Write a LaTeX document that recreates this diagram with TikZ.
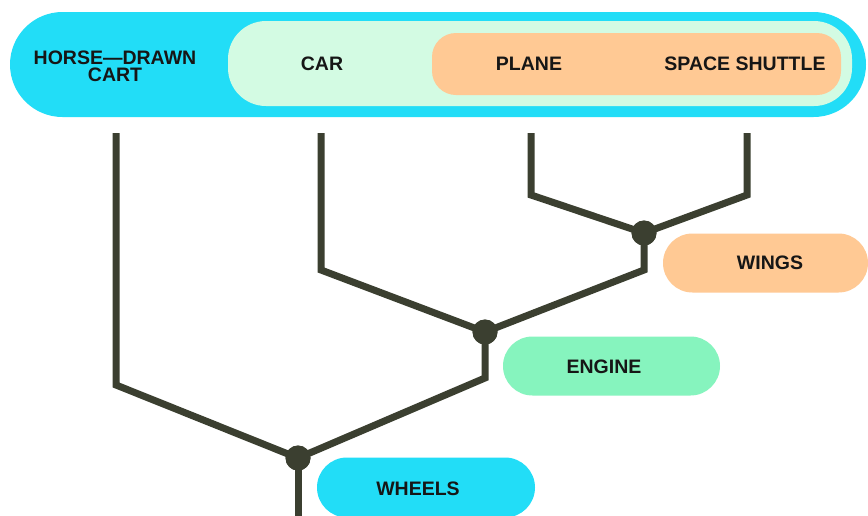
\documentclass[tikz,border=0pt]{standalone}
\usepackage{fontspec}
\setmainfont{Liberation Sans}
\definecolor{cyanpill}{HTML}{22DDF7}
\definecolor{palegreen}{HTML}{D3FBE3}
\definecolor{peach}{HTML}{FFC994}
\definecolor{mint}{HTML}{86F4BE}
\definecolor{branchcol}{HTML}{3B3F30}
\definecolor{txt}{HTML}{161616}
\tikzset{
  pill/.style={draw=none, inner sep=0pt},
  lbl/.style={font=\bfseries\fontsize{19.5}{17}\selectfont, text=txt, align=center, inner sep=0pt},
  branch/.style={draw=branchcol, line width=7pt, line join=miter, line cap=butt},
  junction/.style={circle, fill=branchcol, minimum size=25pt, inner sep=0pt},
}
\begin{document}
\begin{tikzpicture}[x=1pt,y=-1pt]
\clip (0,0) rectangle (868,515);
\fill[white] (0,0) rectangle (868,515);
% top band
\node[pill, fill=cyanpill, minimum width=856pt, minimum height=105pt, rounded corners=52.5pt] (band) at (438,64.5) {};
\node[pill, fill=palegreen, minimum width=624pt, minimum height=85pt, rounded corners=38pt] (carzone) at (540,63.5) {};
\node[pill, fill=peach, minimum width=409pt, minimum height=62pt, rounded corners=24pt] (flyzone) at (636.5,64) {};
\node[lbl] (cart) at (115,66) {HORSE—DRAWN\\CART};
\node[lbl] (car) at (322,64) {CAR};
\node[lbl] (plane) at (529,64) {PLANE};
\node[lbl] (shuttle) at (745,64) {SPACE SHUTTLE};
% label pills
\node[pill, fill=peach, minimum width=205pt, minimum height=59pt, rounded corners=29.5pt] (wingspill) at (765.5,263) {};
\node[lbl] (wings) at (770,263) {WINGS};
\node[pill, fill=mint, minimum width=217pt, minimum height=59pt, rounded corners=29.5pt] (enginepill) at (611.5,366) {};
\node[lbl] (engine) at (604,367) {ENGINE};
\node[pill, fill=cyanpill, minimum width=218pt, minimum height=60pt, rounded corners=30pt] (wheelspill) at (426,487.5) {};
\node[lbl] (wheels) at (418,489) {WHEELS};
% tree
\coordinate (cartTop) at (116,133);
\coordinate (cartBend) at (116,385);
\coordinate (carTop) at (321,133);
\coordinate (carBend) at (321,270);
\coordinate (planeTop) at (531,133);
\coordinate (planeBend) at (531,195);
\coordinate (shuttleTop) at (747,133);
\coordinate (shuttleBend) at (747,195);
\coordinate (wingsBend) at (644,270);
\coordinate (engineBend) at (485,378);
\coordinate (root) at (298,525);
\node[junction] (jw) at (644,233) {};
\node[junction] (je) at (485,332) {};
\node[junction] (jh) at (298,458) {};
\draw[branch] (planeTop) -- (planeBend) -- (jw.center);
\draw[branch] (shuttleTop) -- (shuttleBend) -- (jw.center);
\draw[branch] (jw.center) -- (wingsBend) -- (je.center);
\draw[branch] (carTop) -- (carBend) -- (je.center);
\draw[branch] (je.center) -- (engineBend) -- (jh.center);
\draw[branch] (cartTop) -- (cartBend) -- (jh.center);
\draw[branch] (jh.center) -- (root);
\node[junction] at (jw) {};
\node[junction] at (je) {};
\node[junction] at (jh) {};
\end{tikzpicture}
\end{document}
